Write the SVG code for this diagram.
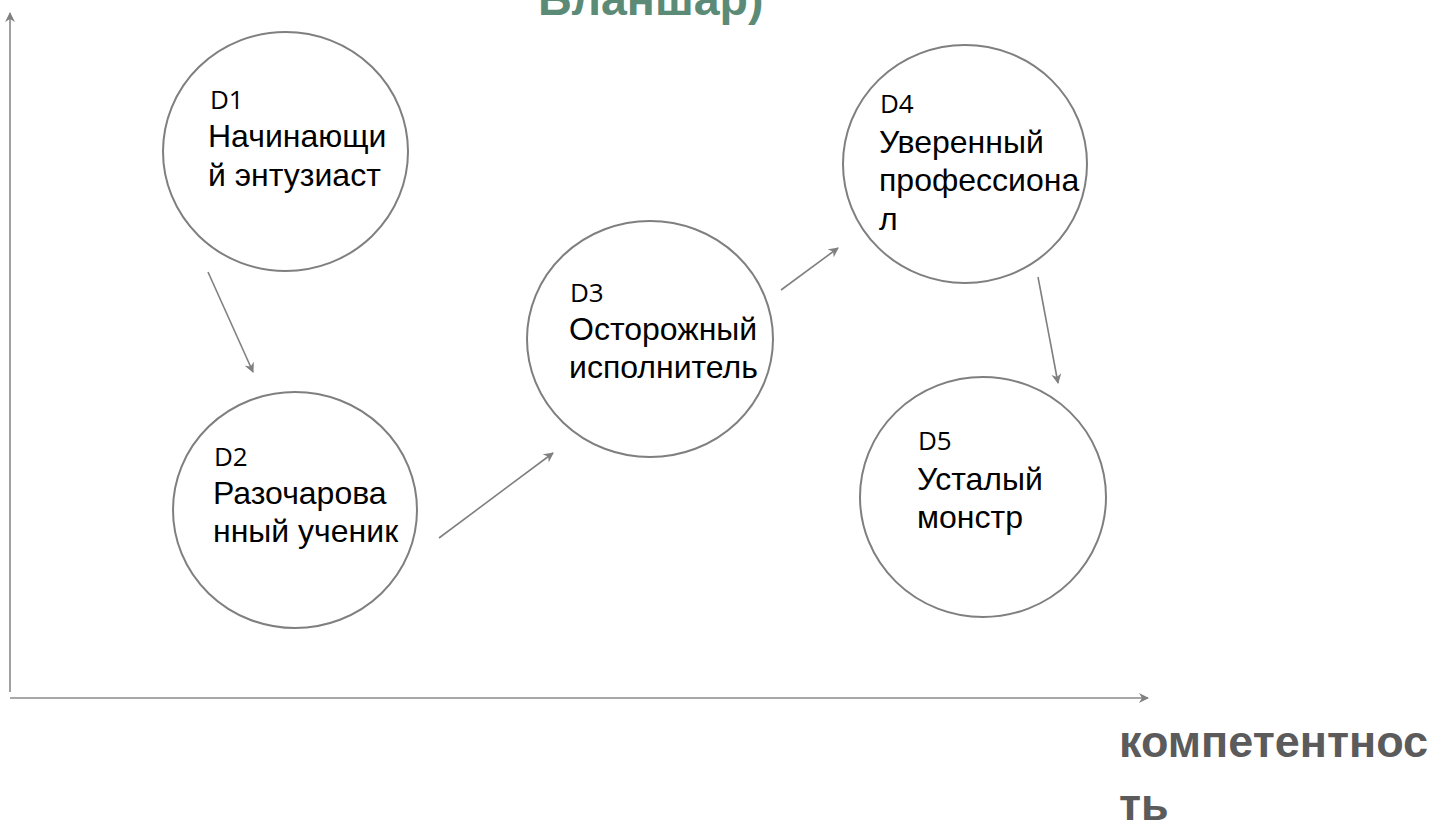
<svg xmlns="http://www.w3.org/2000/svg" width="1446" height="824" viewBox="0 0 1446 824">
<defs>
<style>
.node{fill:#fff;stroke:#7f7f7f;stroke-width:2}
.lbl{font-family:"Liberation Sans",Arial,sans-serif;font-size:32px;fill:#000}
.code{font-family:"Open Sans","Noto Sans",sans-serif;font-size:26px;fill:#000}
.edge{stroke:#808080;stroke-width:1.6;fill:none;marker-end:url(#arr)}
.axis{stroke:#8a8a8a;stroke-width:1.6;fill:none;marker-end:url(#arr)}
.big{font-family:"Liberation Sans",Arial,sans-serif;font-size:45px;font-weight:bold}
</style>
<marker id="arr" viewBox="0 0 10 10" refX="9" refY="5" markerWidth="10" markerHeight="10" markerUnits="userSpaceOnUse" orient="auto">
<path d="M0,0 L10,5 L0,10 L3,5 Z" fill="#808080"/>
</marker>
</defs>
<rect width="1446" height="824" fill="#fff"/>
<text class="big" x="538" y="15" fill="#5b8b77" style="font-size:46.5px">Бланшар)</text>
<g id="axes">
<line class="axis" x1="10" y1="692" x2="10" y2="13"/>
<line class="axis" x1="10" y1="698" x2="1148" y2="698"/>
</g>
<text class="big" x="1119" y="757" fill="#5b5b5b">компетентнос</text>
<text class="big" x="1119" y="820" fill="#5b5b5b">ть</text>
<g id="connectors">
<line class="edge" x1="208" y1="272" x2="253" y2="372"/>
<line class="edge" x1="439" y1="538" x2="553" y2="453"/>
<line class="edge" x1="781" y1="290" x2="838" y2="248"/>
<line class="edge" x1="1038" y1="277" x2="1058" y2="383"/>
</g>
<g id="D1">
<ellipse class="node" cx="285.5" cy="151.5" rx="122.5" ry="119.5"/>
<text class="code" x="210" y="109">D1</text>
<text class="lbl" x="208" y="147">Начинающи</text>
<text class="lbl" x="208" y="186">й энтузиаст</text>
</g>
<g id="D2">
<ellipse class="node" cx="295" cy="510" rx="122" ry="118"/>
<text class="code" x="214" y="466">D2</text>
<text class="lbl" x="213" y="504">Разочарова</text>
<text class="lbl" x="213" y="542">нный ученик</text>
</g>
<g id="D3">
<ellipse class="node" cx="650" cy="339" rx="123" ry="118"/>
<text class="code" x="570" y="302">D3</text>
<text class="lbl" x="569" y="340">Осторожный</text>
<text class="lbl" x="569" y="378">исполнитель</text>
</g>
<g id="D4">
<ellipse class="node" cx="965" cy="164" rx="122" ry="119"/>
<text class="code" x="880" y="113">D4</text>
<text class="lbl" x="879" y="153">Уверенный</text>
<text class="lbl" x="879" y="191">профессиона</text>
<text class="lbl" x="879" y="230">л</text>
</g>
<g id="D5">
<ellipse class="node" cx="983" cy="497" rx="123" ry="120"/>
<text class="code" x="918" y="450">D5</text>
<text class="lbl" x="917" y="490">Усталый</text>
<text class="lbl" x="917" y="528">монстр</text>
</g>
</svg>
